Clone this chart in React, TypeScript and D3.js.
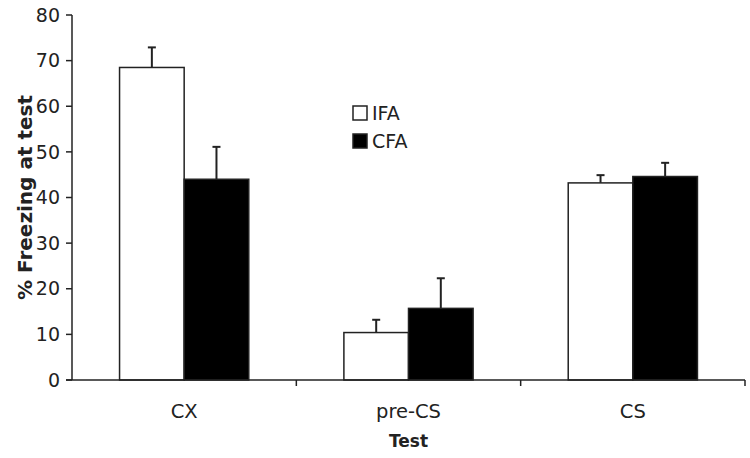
import React from "react";
import * as d3 from "d3";

const categories = ["CX", "pre-CS", "CS"];
const seriesNames = ["IFA", "CFA"];
const ifaValues = [68.5, 10.4, 43.2];
const ifaErrors = [4.4, 2.8, 1.7];
const cfaValues = [44.0, 15.7, 44.6];
const cfaErrors = [7.1, 6.6, 3.0];
const yTicks = [0, 10, 20, 30, 40, 50, 60, 70, 80];

const W = 750, H = 458;
const left = 72, right = 745, top = 15, bottom = 380;
const font = "'DejaVu Sans', Verdana, sans-serif";
const ink = "#222";

export default function App() {
  const y = d3.scaleLinear().domain([0, 80]).range([bottom, top]);
  const x0 = d3.scaleBand().domain(categories).range([left, right]).paddingInner(0).paddingOuter(0);
  const x1 = d3.scaleBand().domain(seriesNames).range([0, x0.bandwidth()]).paddingOuter(0.736).paddingInner(0);
  const series = [
    { name: "IFA", values: ifaValues, errors: ifaErrors, fill: "#fff" },
    { name: "CFA", values: cfaValues, errors: cfaErrors, fill: "#000" },
  ];
  const boundaries = [...categories.map((c) => x0(c)!), right];
  return (
    <svg width={W} height={H} style={{ position: "absolute", left: 0, top: 0, background: "#fff" }}>
      {series.map((s) =>
        categories.map((c, i) => {
          const bx = x0(c)! + x1(s.name)!;
          const bw = x1.bandwidth();
          const cx = bx + bw / 2;
          const yv = y(s.values[i]);
          const ye = y(s.values[i] + s.errors[i]);
          return (
            <g key={s.name + c}>
              <line x1={cx} x2={cx} y1={yv} y2={ye} stroke={ink} strokeWidth={2} />
              <line x1={cx - 4} x2={cx + 4} y1={ye} y2={ye} stroke={ink} strokeWidth={2} />
              <rect x={bx} y={yv} width={bw} height={bottom - yv} fill={s.fill} stroke={ink} strokeWidth={1.5} />
            </g>
          );
        })
      )}
      {/* y axis */}
      <line x1={left} x2={left} y1={top} y2={bottom} stroke={ink} strokeWidth={1.5} />
      {yTicks.map((t) => (
        <g key={t}>
          <line x1={left - 6} x2={left} y1={y(t)} y2={y(t)} stroke={ink} strokeWidth={1.5} />
          <text x={left - 12} y={y(t)} dy="0.35em" textAnchor="end" fontFamily={font} fontSize={19} fill="#222">{t}</text>
        </g>
      ))}
      {/* x axis */}
      <line x1={left - 6} x2={right} y1={bottom} y2={bottom} stroke={ink} strokeWidth={1.5} />
      {boundaries.slice(1).map((bx, i) => (
        <line key={i} x1={bx} x2={bx} y1={bottom} y2={bottom + 6} stroke={ink} strokeWidth={1.5} />
      ))}
      {categories.map((c) => (
        <text key={c} x={x0(c)! + x0.bandwidth() / 2} y={411} dy="0.35em" textAnchor="middle" fontFamily={font} fontSize={19.5} fill="#222">{c}</text>
      ))}
      <text x={(left + right) / 2} y={441} dy="0.35em" textAnchor="middle" fontFamily={font} fontSize={17} fontWeight="bold" fill="#222">Test</text>
      <text transform={`translate(25,${(top + bottom) / 2}) rotate(-90)`} textAnchor="middle" dy="0.35em" fontFamily={font} fontSize={20} fontWeight="bold" fill="#222">% Freezing at test</text>
      {/* legend */}
      {series.map((s, i) => (
        <g key={s.name} transform={`translate(353,${113 + i * 28})`}>
          <rect x={0} y={-7} width={14} height={14} fill={s.fill} stroke={ink} strokeWidth={1.5} />
          <text x={19} y={0} dy="0.35em" fontFamily={font} fontSize={19} fill="#222">{s.name}</text>
        </g>
      ))}
    </svg>
  );
}
